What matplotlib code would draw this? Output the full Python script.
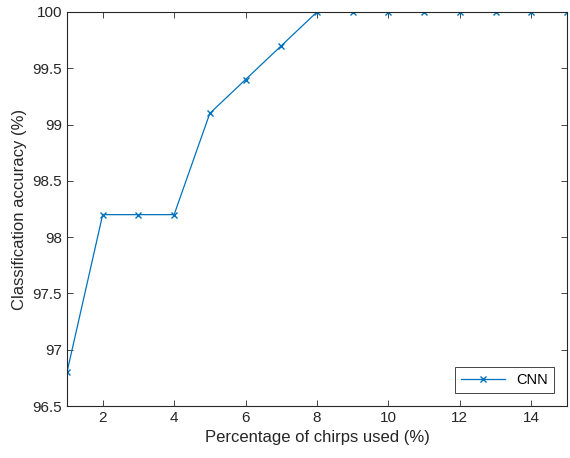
import matplotlib
matplotlib.use("Agg")
import matplotlib.pyplot as plt

plt.rcParams['font.family'] = ['Liberation Sans', 'DejaVu Sans']

chirps_pct = [1, 2, 3, 4, 5, 6, 7, 8, 9, 10, 11, 12, 13, 14, 15]
cnn_acc = [96.8, 98.2, 98.2, 98.2, 99.1, 99.4, 99.7, 100, 100, 100, 100, 100, 100, 100, 100]

fig = plt.figure(figsize=(5.7, 4.58), dpi=100)
ax = fig.add_axes([0.1175, 0.1135, 0.8772, 0.8603])
ax.plot(chirps_pct, cnn_acc, color='#0072BD', marker='x', markersize=5,
        linewidth=0.9, label='CNN')
ax.set_xlim(1, 15)
ax.set_ylim(96.5, 100)
ax.set_xticks([2, 4, 6, 8, 10, 12, 14])
ax.set_yticks([96.5, 97, 97.5, 98, 98.5, 99, 99.5, 100])
ax.set_yticklabels(['96.5', '97', '97.5', '98', '98.5', '99', '99.5', '100'])
ax.tick_params(direction='in', top=True, right=True, labelsize=11,
               colors='#262626', length=4, width=0.6)
for s in ax.spines.values():
    s.set_color('#262626')
    s.set_linewidth(0.8)
ax.set_xlabel('Percentage of chirps used (%)', fontsize=12, color='#262626')
ax.set_ylabel('Classification accuracy (%)', fontsize=12, color='#262626')
leg = ax.legend(loc='lower right', fontsize=10.5, fancybox=False, framealpha=1,
                edgecolor='#262626', handlelength=3.0, borderaxespad=0.9)
leg.get_frame().set_linewidth(0.6)
fig.savefig('out.png', dpi=100)
